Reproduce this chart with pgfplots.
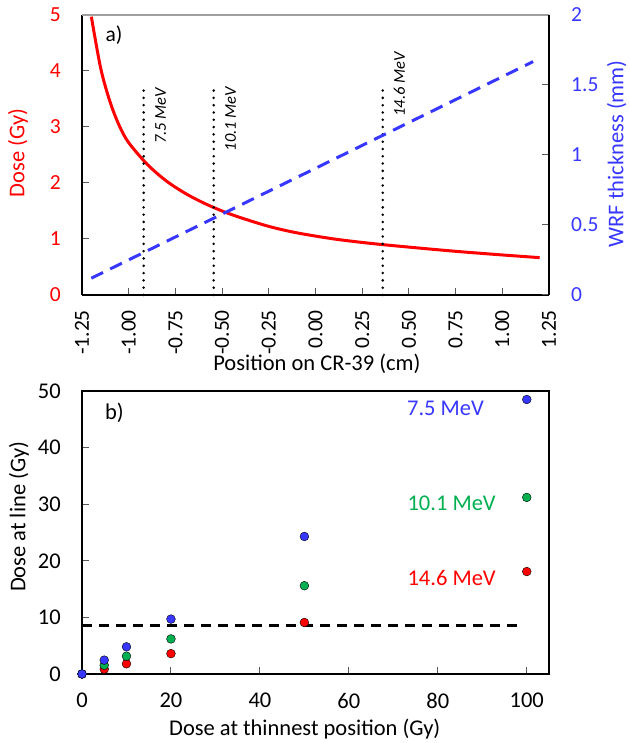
\documentclass[border=0pt]{standalone}
\usepackage{fontspec}
\setmainfont{Carlito}
\usepackage{pgfplots}
\pgfplotsset{compat=1.18}
\definecolor{myred}{RGB}{255,0,0}
\definecolor{myblue}{RGB}{55,55,255}
\definecolor{mygreen}{RGB}{0,176,80}
\newcommand{\tfont}{\fontsize{21.5}{25}\selectfont}
\newcommand{\lfont}{\fontsize{22.5}{26}\selectfont}
\newcommand{\ifont}{\fontsize{16.5}{19}\selectfont\itshape}
\begin{document}
\begin{tikzpicture}
\useasboundingbox (0,0) rectangle (629pt,743pt);
% ---------- top panel, left axis ----------
\begin{axis}[
  at={(82pt,448pt)}, anchor=south west, scale only axis,
  width=467pt, height=280pt,
  xmin=-1.25, xmax=1.25, ymin=0, ymax=5,
  axis x line*=bottom, axis y line*=left,
  axis line style={black, line width=1.3pt},
  tick align=inside, major tick length=7pt,
  tick style={gray!70!black, line width=1pt},
  xtick={-1.25,-1,-0.75,-0.5,-0.25,0,0.25,0.5,0.75,1,1.25},
  xticklabels={-1.25,-1.00,-0.75,-0.50,-0.25,0.00,0.25,0.50,0.75,1.00,1.25},
  ytick={0,1,2,3,4,5},
  /pgf/number format/assume math mode=true,
  tick label style={font=\tfont},
  xticklabel style={anchor=east, rotate=90, inner sep=0pt},
  xticklabel shift=15pt,
  yticklabel style={anchor=east, inner sep=0pt, text=myred},
  yticklabel shift=21pt,
  xlabel={Position on CR-39 (cm)},
  xlabel style={font=\lfont, at={(axis description cs:0.503,-0.246)}, anchor=center},
  ylabel={Dose (Gy)},
  ylabel style={font=\lfont, text=myred, at={(axis description cs:-0.137,0.507)}, anchor=center},
  clip=false,
]
\addplot[myred, line width=3pt, smooth, tension=0.5] coordinates {
  (-1.200,4.97) (-1.150,4.05) (-1.100,3.45) (-1.050,3.02) (-1.000,2.72)
  (-0.900,2.33) (-0.800,2.04) (-0.700,1.82) (-0.600,1.645) (-0.500,1.50)
  (-0.400,1.38) (-0.250,1.225) (-0.100,1.11) (0.100,1.00) (0.300,0.92)
  (0.500,0.855) (0.750,0.78) (1.000,0.715) (1.200,0.667)
};
\addplot[black, line width=2.8pt, dash pattern=on 0pt off 7.3pt, line cap=round] coordinates {(-0.920,0) (-0.920,3.75)};
\addplot[black, line width=2.8pt, dash pattern=on 0pt off 7.3pt, line cap=round] coordinates {(-0.545,0) (-0.545,3.75)};
\addplot[black, line width=2.8pt, dash pattern=on 0pt off 7.3pt, line cap=round] coordinates {(0.360,0) (0.360,3.75)};
\node[xshift=17pt, rotate=90, anchor=east, inner sep=0pt, font=\ifont] at (axis cs:-0.920,3.70) {7.5 MeV};
\node[xshift=17pt, rotate=90, anchor=east, inner sep=0pt, font=\ifont] at (axis cs:-0.545,3.72) {10.1 MeV};
\node[xshift=16.5pt, rotate=90, anchor=east, inner sep=0pt, font=\ifont] at (axis cs:0.360,4.34) {14.6 MeV};
\node[font=\tfont, anchor=center] at (axis cs:-1.079,4.64) {a)};
\end{axis}
% ---------- top panel, right axis ----------
\begin{axis}[
  at={(82pt,448pt)}, anchor=south west, scale only axis,
  width=467pt, height=280pt,
  xmin=-1.25, xmax=1.25, ymin=0, ymax=2,
  axis x line*=top, axis y line*=right,
  x axis line style={gray!75, line width=1.5pt},
  y axis line style={black, line width=1.3pt},
  xtick=\empty, ytick={0,0.5,1,1.5,2},
  tick align=inside, major tick length=7pt,
  tick style={gray!70!black, line width=1pt},
  /pgf/number format/assume math mode=true,
  yticklabel style={anchor=west, inner sep=0pt, text=myblue, font=\tfont},
  yticklabel shift=22pt,
  ylabel={WRF thickness (mm)},
  ylabel style={font=\lfont, text=myblue, inner sep=0pt, at={(axis description cs:1.145,0.504)}, anchor=center},
  clip=false,
]
\addplot[myblue, line width=3pt, dash pattern=on 13pt off 8pt] coordinates {(-1.200,0.12) (1.165,1.667)};
\end{axis}
% ---------- bottom panel ----------
\begin{axis}[
  at={(82pt,69pt)}, anchor=south west, scale only axis,
  width=467pt, height=283pt,
  xmin=0, xmax=105, ymin=0, ymax=50,
  axis line style={black, line width=1.3pt},
  tick pos=left, tick align=inside, major tick length=7pt,
  tick style={gray!70!black, line width=1pt},
  xtick={0,20,40,60,80,100}, ytick={0,10,20,30,40,50},
  /pgf/number format/assume math mode=true,
  tick label style={font=\lfont},
  xticklabel style={anchor=north, inner sep=0pt},
  xticklabel shift=19pt,
  yticklabel style={anchor=east, inner sep=0pt},
  yticklabel shift=21pt,
  xlabel={Dose at thinnest position (Gy)},
  xlabel style={font=\lfont, at={(axis description cs:0.477,-0.194)}, anchor=center},
  ylabel={Dose at line (Gy)},
  ylabel style={font=\lfont, at={(axis description cs:-0.135,0.555)}, anchor=center},
  clip=false,
]
\addplot[black, line width=3pt, dash pattern=on 10pt off 7pt] coordinates {(0,8.6) (99,8.6)};
\addplot[only marks, mark=*, mark size=4.4pt, mark options={draw=none, fill=myred}] coordinates {(0,0) (5,0.85) (10,1.8) (20,3.6) (50,9.1) (100,18.1)};
\addplot[only marks, mark=*, mark size=4.4pt, mark options={draw=none, fill=mygreen}] coordinates {(0,0) (5,1.55) (10,3.15) (20,6.2) (50,15.6) (100,31.2)};
\addplot[only marks, mark=*, mark size=4.4pt, mark options={draw=none, fill=myblue}] coordinates {(0,0) (5,2.45) (10,4.8) (20,9.7) (50,24.3) (100,48.5)};
\node[anchor=west, text=myblue, font=\lfont] at (axis cs:72.3,46.9) {7.5 MeV};
\node[anchor=west, text=mygreen, font=\lfont] at (axis cs:72.4,30.1) {10.1 MeV};
\node[anchor=west, text=myred, font=\lfont] at (axis cs:72.4,16.9) {14.6 MeV};
\node[font=\lfont, anchor=center] at (axis cs:7.3,46.2) {b)};
\end{axis}
\end{tikzpicture}
\end{document}
